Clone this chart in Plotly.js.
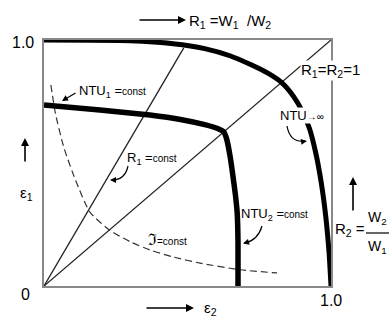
<!DOCTYPE html>
<html>
<head>
<meta charset="utf-8">
<script src="https://cdn.plot.ly/plotly-3.0.1.min.js"></script>
<style>
  html, body { margin: 0; padding: 0; background: #fff; }
  #chart { width: 389px; height: 320px; }
</style>
</head>
<body>
<div id="chart"></div>
<script>
// Effectiveness map of a heat exchanger: eps1 versus eps2
// Limiting curve NTU -> infinity
const ntuInfEps2 = [0, 0.30, 0.45, 0.56, 0.65, 0.72, 0.78, 0.83, 0.87, 0.90, 0.925, 0.947, 0.966, 0.982, 0.993, 1.0];
const ntuInfEps1 = [1.0, 0.997, 0.985, 0.965, 0.935, 0.90, 0.865, 0.825, 0.77, 0.71, 0.64, 0.54, 0.42, 0.28, 0.14, 0];

// NTU1 = const (upper branch) joined to NTU2 = const (vertical branch)
const ntuConstEps2 = [0, 0.195, 0.369, 0.48, 0.56, 0.605, 0.627, 0.637, 0.648, 0.658, 0.667, 0.673, 0.676, 0.676];
const ntuConstEps1 = [0.736, 0.715, 0.695, 0.676, 0.656, 0.640, 0.626, 0.595, 0.53, 0.45, 0.37, 0.30, 0.18, 0];

// Curve tau = const (dashed)
const tauEps2 = [0.024, 0.04, 0.07, 0.11, 0.16, 0.23, 0.30, 0.37, 0.45, 0.544, 0.683, 0.812];
const tauEps1 = [0.817, 0.70, 0.56, 0.43, 0.30, 0.226, 0.18, 0.146, 0.118, 0.093, 0.066, 0.053];

// Rays R1 = const through the origin
const rayEqualEps2 = [0, 1.0];
const rayEqualEps1 = [0, 1.0];
const rayR1Eps2 = [0, 0.487];
const rayR1Eps1 = [0, 0.968];

// Axis end labels
const axisLabels = { zero: '0', xEnd: '1.0', yEnd: '1.0' };

const FONT = 'Liberation Sans, Arial, sans-serif';

// pixel position inside the 389x320 page -> paper coordinates of the plot area
const L = 44, R = 331, T = 40, B = 286;
const px = x => (x - L) / (R - L);
const py = y => (B - y) / (B - T);

const traces = [
  { x: rayEqualEps2, y: rayEqualEps1, mode: 'lines', line: { color: '#222', width: 1.3 }, hoverinfo: 'skip' },
  { x: rayR1Eps2, y: rayR1Eps1, mode: 'lines', line: { color: '#222', width: 1.3 }, hoverinfo: 'skip' },
  { x: tauEps2, y: tauEps1, mode: 'lines', line: { color: '#333', width: 1.2, dash: '7px,4px', shape: 'spline', smoothing: 0.6 }, hoverinfo: 'skip' },
  { x: ntuInfEps2, y: ntuInfEps1, mode: 'lines', line: { color: '#000', width: 5, shape: 'spline', smoothing: 0.6 }, hoverinfo: 'skip' },
  { x: ntuConstEps2, y: ntuConstEps1, mode: 'lines', line: { color: '#000', width: 5.5, shape: 'spline', smoothing: 0.4 }, hoverinfo: 'skip' }
];

function txt(x, y, text, size, anchor, extra) {
  return Object.assign({
    xref: 'paper', yref: 'paper', x: px(x), y: py(y), text: text,
    showarrow: false, xanchor: anchor || 'left', yanchor: 'middle',
    font: { family: FONT, size: size, color: '#000' }
  }, extra || {});
}
function arrow(hx, hy, ax, ay, w) {
  return {
    xref: 'paper', yref: 'paper', x: px(hx), y: py(hy), ax: ax, ay: ay,
    text: '', showarrow: true, arrowhead: 2, arrowsize: 1, arrowwidth: w || 1.5,
    arrowcolor: '#000', standoff: 0, startstandoff: 0
  };
}
const small = s => '<span style="font-size:10px">' + s + '</span>';

const annotations = [
  txt(23, 42, axisLabels.yEnd, 16, 'center'),
  txt(25, 294, axisLabels.zero, 16, 'center'),
  txt(331, 300, axisLabels.xEnd, 16, 'center'),
  // ratio definition along the top
  arrow(186, 20, -48, 0, 1.6),
  txt(187, 21, 'R<sub>1</sub> =W<sub>1</sub>  /W<sub>2</sub>', 15, 'left'),
  txt(300, 70, 'R<sub>1</sub>=R<sub>2</sub>=1', 15, 'left', { bgcolor: '#fff', borderpad: 0 }),
  txt(77, 91, 'NTU<sub>1</sub> =' + small('const'), 13, 'left'),
  arrow(62, 101, 15, -9, 1.2),
  txt(125, 158, 'R<sub>1</sub> =' + small('const'), 13, 'left'),
  txt(279, 115, 'NTU' + small('→∞'), 13, 'left', { bgcolor: '#fff', borderpad: 0 }),
  txt(239, 214, 'NTU<sub>2</sub> =' + small('const'), 13, 'left'),
  txt(146, 239, 'ℑ' + small('=const'), 16, 'left'),
  // axis names
  arrow(25, 138, 0, 25, 1.6),
  txt(26, 193, 'ε<sub>1</sub>', 15, 'center'),
  arrow(194, 308, -49, 0, 1.6),
  txt(202, 308, 'ε<sub>2</sub>', 15, 'left'),
  arrow(353, 177, 0, 35, 1.6),
  txt(333, 229, 'R<sub>2</sub> =', 15, 'left'),
  txt(366, 218, 'W<sub>2</sub>', 14, 'left'),
  txt(366, 247, 'W<sub>1</sub>', 14, 'left'),
  // heads of the curved pointers
  arrow(110, 180, 7, 0, 1.2),
  arrow(307, 141, -7, 1, 1.2),
  arrow(243, 243.5, 7, -2, 1.2)
];

function pathPx(pts) {
  // quadratic pointer curve given in page pixels, expressed in paper units
  const [s, c, e] = pts;
  return 'M' + px(s[0]) + ',' + py(s[1]) + ' Q' + px(c[0]) + ',' + py(c[1]) + ' ' + px(e[0]) + ',' + py(e[1]);
}
const curveStyle = { color: '#000', width: 1.2 };
const shapes = [
  { type: 'path', xref: 'paper', yref: 'paper', path: pathPx([[128, 166], [125, 180], [112, 180]]), line: curveStyle },
  { type: 'path', xref: 'paper', yref: 'paper', path: pathPx([[287, 126], [290, 143], [305, 141]]), line: curveStyle },
  { type: 'path', xref: 'paper', yref: 'paper', path: pathPx([[262, 226], [258, 240], [245, 243]]), line: curveStyle },
  // fraction bar of W2/W1
  { type: 'line', xref: 'paper', yref: 'paper', x0: px(366), x1: px(392), y0: py(233), y1: py(233), line: { color: '#000', width: 1.2 } }
];

const layout = {
  width: 389, height: 320,
  margin: { l: L, r: 389 - R, t: T, b: 320 - B, pad: 0 },
  paper_bgcolor: '#fff', plot_bgcolor: '#fff',
  showlegend: false,
  xaxis: { range: [0, 1], showgrid: false, zeroline: false, showticklabels: false, ticks: '',
           showline: true, mirror: true, linecolor: '#888', linewidth: 2, layer: 'below traces', fixedrange: true },
  yaxis: { range: [0, 1], showgrid: false, zeroline: false, showticklabels: false, ticks: '',
           showline: true, mirror: true, linecolor: '#888', linewidth: 2, layer: 'below traces', fixedrange: true },
  annotations: annotations,
  shapes: shapes
};

Plotly.newPlot('chart', traces, layout, { staticPlot: true, displayModeBar: false });
</script>
</body>
</html>
